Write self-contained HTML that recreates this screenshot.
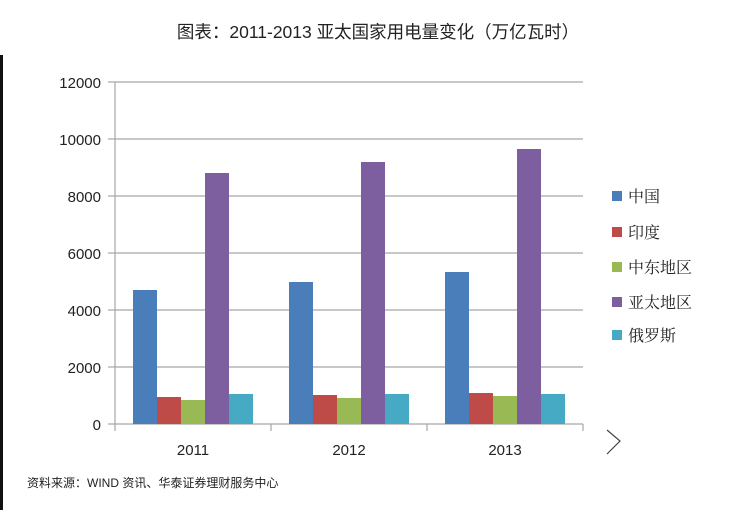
<!DOCTYPE html>
<html><head><meta charset="utf-8"><style>
body{margin:0;background:#fff;}
</style></head><body>
<svg width="737" height="510" xmlns="http://www.w3.org/2000/svg" font-family="Liberation Sans, Noto Sans CJK SC, sans-serif">
<rect width="737" height="510" fill="#fff"/>
<rect x="0" y="55" width="3" height="455" fill="#111"/>
<text x="378" y="38" font-size="17.5" text-anchor="middle" fill="#222">图表：2011-2013 亚太国家用电量变化（万亿瓦时）</text>
<g stroke="#a6a6a6" stroke-width="1.2">
<line x1="115" y1="82" x2="583" y2="82"/>
<line x1="115" y1="139" x2="583" y2="139"/>
<line x1="115" y1="196" x2="583" y2="196"/>
<line x1="115" y1="253" x2="583" y2="253"/>
<line x1="115" y1="310" x2="583" y2="310"/>
<line x1="115" y1="367" x2="583" y2="367"/>
<line x1="108" y1="424" x2="583" y2="424"/>
<line x1="115" y1="82" x2="115" y2="424"/>
<line x1="115" y1="424" x2="115" y2="431"/>
<line x1="271" y1="424" x2="271" y2="431"/>
<line x1="427" y1="424" x2="427" y2="431"/>
<line x1="583" y1="424" x2="583" y2="431"/>
<line x1="108" y1="82" x2="115" y2="82"/><line x1="108" y1="139" x2="115" y2="139"/><line x1="108" y1="196" x2="115" y2="196"/><line x1="108" y1="253" x2="115" y2="253"/><line x1="108" y1="310" x2="115" y2="310"/><line x1="108" y1="367" x2="115" y2="367"/>
</g>
<g font-size="15" fill="#222" text-anchor="end">
<text x="101" y="88">12000</text><text x="101" y="145">10000</text><text x="101" y="202">8000</text><text x="101" y="259">6000</text><text x="101" y="316">4000</text><text x="101" y="373">2000</text><text x="101" y="430">0</text>
</g>
<g font-size="15" fill="#222" text-anchor="middle">
<text x="193" y="455">2011</text><text x="349" y="455">2012</text><text x="505" y="455">2013</text>
</g>
<g>
<rect x="133" y="290" width="24" height="134" fill="#4a7ebb"/>
<rect x="157" y="397" width="24" height="27" fill="#be4b48"/>
<rect x="181" y="400" width="24" height="24" fill="#98b954"/>
<rect x="205" y="173" width="24" height="251" fill="#7d5fa0"/>
<rect x="229" y="394" width="24" height="30" fill="#46aac5"/>
<rect x="289" y="282" width="24" height="142" fill="#4a7ebb"/>
<rect x="313" y="395" width="24" height="29" fill="#be4b48"/>
<rect x="337" y="398" width="24" height="26" fill="#98b954"/>
<rect x="361" y="162" width="24" height="262" fill="#7d5fa0"/>
<rect x="385" y="394" width="24" height="30" fill="#46aac5"/>
<rect x="445" y="272" width="24" height="152" fill="#4a7ebb"/>
<rect x="469" y="393" width="24" height="31" fill="#be4b48"/>
<rect x="493" y="396" width="24" height="28" fill="#98b954"/>
<rect x="517" y="149" width="24" height="275" fill="#7d5fa0"/>
<rect x="541" y="394" width="24" height="30" fill="#46aac5"/>
</g>
<g font-size="16" fill="#222" font-family="Noto Serif CJK SC, serif">
<rect x="612" y="191" width="10" height="10" fill="#4a7ebb"/><text x="628" y="202">中国</text>
<rect x="612" y="227" width="10" height="10" fill="#be4b48"/><text x="628" y="238">印度</text>
<rect x="612" y="262" width="10" height="10" fill="#98b954"/><text x="628" y="273">中东地区</text>
<rect x="612" y="297" width="10" height="10" fill="#7d5fa0"/><text x="628" y="308">亚太地区</text>
<rect x="612" y="330" width="10" height="10" fill="#46aac5"/><text x="628" y="341">俄罗斯</text>
</g>
<polyline points="607,430 620,441 607,454" fill="none" stroke="#444" stroke-width="1.2"/>
<text x="27" y="487" font-size="12" fill="#222">资料来源：WIND 资讯、华泰证券理财服务中心</text>
</svg>
</body></html>
